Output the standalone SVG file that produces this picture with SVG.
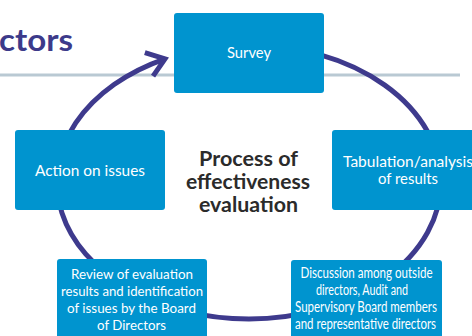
<svg xmlns="http://www.w3.org/2000/svg" width="472" height="336" viewBox="0 0 472 336">
  <style>
    .box { fill: #0094cf; }
    .bt { font-family: Lato, "Noto Sans", sans-serif; font-size: 15px; fill: #ffffff; text-anchor: middle; }
    .st { font-family: Lato, "Noto Sans", sans-serif; font-size: 14px; fill: #ffffff; text-anchor: middle; }
    .dt { font-family: Lato, "Noto Sans", sans-serif; font-size: 14.5px; fill: #ffffff; text-anchor: middle; }
    .ct { font-family: Lato, "Noto Sans", sans-serif; font-size: 20.5px; font-weight: bold; fill: #2b2b2b; text-anchor: middle; }
    .title { font-family: Lato, "Noto Sans", sans-serif; font-size: 31px; font-weight: bold; fill: #3c3a8a; }
    .cyc { fill: none; stroke: #3e3a8d; stroke-width: 5; }
  </style>
  <defs>
    <marker id="chev" markerUnits="userSpaceOnUse" orient="auto" viewBox="-25 -20 30 40" markerWidth="30" markerHeight="40" refX="0" refY="0" overflow="visible">
      <polyline points="-17,-12.5 0,0 -17,12.5" fill="none" stroke="#3e3a8d" stroke-width="5" stroke-linejoin="miter"/>
    </marker>
  </defs>
  <rect width="472" height="336" fill="#ffffff"/>
  <text class="title" x="-1" y="51" textLength="74" lengthAdjust="spacingAndGlyphs">ctors</text>
  <rect x="0" y="73.5" width="460" height="3" fill="#b9c9d3"/>
  <g id="connectors">
    <path class="cyc" d="M249,45 A192,137 0 0 1 441,182 A192,137 0 0 1 249,319 A192,137 0 0 1 165,58.8" marker-end="url(#chev)"/>
  </g>
  <g id="survey">
    <rect class="box" x="174" y="13" width="150" height="80" rx="3"/>
    <text class="bt" x="249" y="58" textLength="44" lengthAdjust="spacingAndGlyphs">Survey</text>
  </g>
  <g id="tabulation">
    <rect class="box" x="332" y="130" width="150" height="80" rx="3"/>
    <text class="bt" x="408" y="167" textLength="130" lengthAdjust="spacingAndGlyphs">Tabulation/analysis</text>
    <text class="bt" x="408" y="184" textLength="60" lengthAdjust="spacingAndGlyphs">of results</text>
  </g>
  <g id="discussion">
    <rect class="box" x="291" y="260" width="151" height="90" rx="3"/>
    <text class="dt" x="366.5" y="278" textLength="132" lengthAdjust="spacingAndGlyphs">Discussion among outside</text>
    <text class="dt" x="362" y="295" textLength="92" lengthAdjust="spacingAndGlyphs">directors, Audit and</text>
    <text class="dt" x="366" y="312" textLength="142" lengthAdjust="spacingAndGlyphs">Supervisory Board members</text>
    <text class="dt" x="365.5" y="329" textLength="141" lengthAdjust="spacingAndGlyphs">and representative directors</text>
  </g>
  <g id="review">
    <rect class="box" x="57" y="259" width="150" height="90" rx="3"/>
    <text class="st" x="132" y="279" textLength="122" lengthAdjust="spacingAndGlyphs">Review of evaluation</text>
    <text class="st" x="132" y="296" textLength="142" lengthAdjust="spacingAndGlyphs">results and identification</text>
    <text class="st" x="131.5" y="313" textLength="129" lengthAdjust="spacingAndGlyphs">of issues by the Board</text>
    <text class="st" x="131.5" y="330" textLength="69" lengthAdjust="spacingAndGlyphs">of Directors</text>
  </g>
  <g id="action">
    <rect class="box" x="15" y="130" width="150" height="80" rx="3"/>
    <text class="bt" x="90" y="176" textLength="110" lengthAdjust="spacingAndGlyphs">Action on issues</text>
  </g>
  <g id="center">
    <text class="ct" x="248.5" y="166" textLength="99" lengthAdjust="spacingAndGlyphs">Process of</text>
    <text class="ct" x="248" y="189" textLength="124" lengthAdjust="spacingAndGlyphs">effectiveness</text>
    <text class="ct" x="248.5" y="212" textLength="99" lengthAdjust="spacingAndGlyphs">evaluation</text>
  </g>
</svg>
